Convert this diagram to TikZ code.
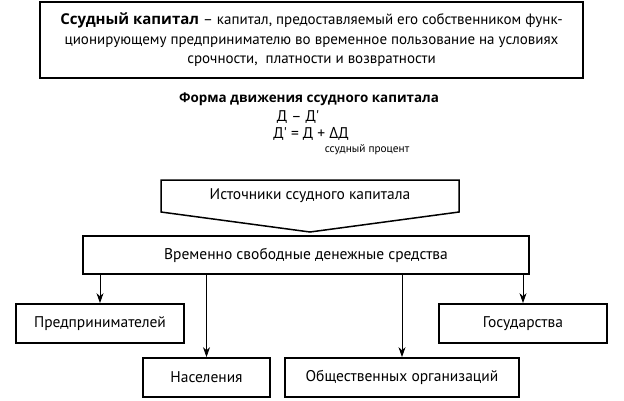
\documentclass[tikz,border=0pt]{standalone}
\usepackage{fontspec}
\setmainfont{PT Sans}
\newfontfamily\plainfont{PT Sans}[Ligatures=TeXOff]
\newfontfamily\grkfont{Open Sans}
\newfontfamily\headfont{Open Sans Bold}
\usetikzlibrary{arrows.meta}

\begin{document}
\begin{tikzpicture}[x=1pt, y=-1pt, font=\fontsize{15.5}{18}\selectfont,
    box/.style={draw, line width=1.8pt, inner sep=0pt, minimum height=39},
    flow/.style={-{Stealth[length=10pt, width=7pt]}, line width=0.8pt}]
\useasboundingbox (0, 0) rectangle (624, 400);
\node[box, line width=2.2pt, minimum width=543, minimum height=76, align=center,
    font=\fontsize{15}{19.5}\selectfont] (def) at (311.5, 40)
    {{\headfont Ссудный капитал} – капитал, предоставляемый его собственником функ-\\
     ционирующему предпринимателю во временное пользование на условиях\\
     срочности,\ \ платности и возвратности};
\node[font=\headfont\fontsize{13.4}{16}\selectfont] (form) at (309, 99) {Форма движения ссудного капитала};
\node (eq1) at (298, 117) {\plainfont Д – Д'};
\node (eq2) at (311, 134) {\plainfont Д' = Д + {\grkfont Δ}Д};
\node[font=\fontsize{11.3}{13}\selectfont] (pct) at (367, 150) {ссудный процент};
\node (src) at (310, 196) {Источники ссудного капитала};
\draw[line width=1.5pt] (161, 180) -- (459, 180) -- (459, 212) -- (310, 232) -- (161, 212) -- cycle;
\node[box, minimum width=446, minimum height=38] (free) at (306, 255) {Временно свободные денежные средства};
\node[box, minimum width=168] (ent) at (100, 323.5) {Предпринимателей};
\node[box, minimum width=168] (gov) at (523, 323.5) {Государства};
\node[box, minimum width=127] (pop) at (206.5, 377.5) {Населения};
\node[box, minimum width=234] (org) at (402, 377.5) {Общественных организаций};
\foreach \t in {ent, pop, org, gov}
    \draw[flow] (free.south -| \t.north) -- (\t.north);
\end{tikzpicture}
\end{document}
